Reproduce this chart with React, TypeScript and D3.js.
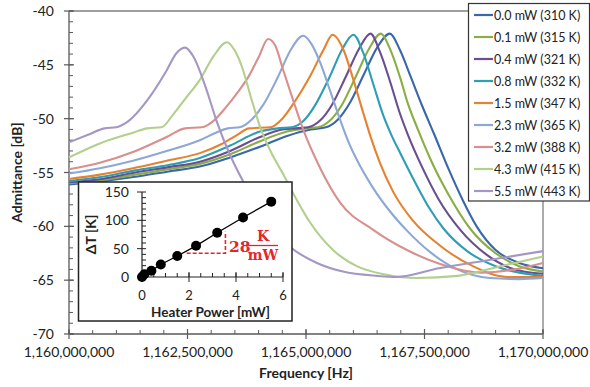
import React from 'react'
import * as d3 from 'd3'

const width = 590
const height = 387

// legend / series
const seriesLabels = [
  '0.0 mW (310 K)', '0.1 mW (315 K)', '0.4 mW (321 K)', '0.8 mW (332 K)', '1.5 mW (347 K)',
  '2.3 mW (365 K)', '3.2 mW (388 K)', '4.3 mW (415 K)', '5.5 mW (443 K)',
]
const seriesColors = [
  '#3a67ab', '#8aae45', '#6a4e91', '#2f9db5', '#e6822f',
  '#8da8d5', '#d98f8c', '#b3cf8c', '#a497c5',
]

// admittance traces: [frequency MHz, admittance dB]
const trace00 = [
  [1160, -56.1], [1160.7, -55.8], [1161.4, -55.4], [1162.1, -54.9], [1162.76, -54.45], [1163.4, -53.6],
  [1164.03, -52.6], [1164.6, -51.6], [1165.1, -51.0], [1165.42, -50.8], [1165.67, -50.1], [1165.93, -48.5],
  [1166.22, -45.9], [1166.5, -43.4], [1166.77, -42.1], [1166.98, -43.6], [1167.2, -46.0], [1167.45, -48.8],
  [1167.7, -51.4], [1168.0, -54.6], [1168.3, -57.5], [1168.6, -60.0], [1169.0, -62.2], [1169.5, -63.4], [1170, -63.9],
]
const trace01 = [
  [1160, -56.0], [1160.7, -55.7], [1161.4, -55.2], [1162.1, -54.7], [1162.76, -54.2], [1163.4, -53.3],
  [1164.03, -52.1], [1164.6, -51.2], [1165.0, -50.9], [1165.25, -50.8], [1165.5, -50.2], [1165.76, -48.7],
  [1166.05, -46.1], [1166.33, -43.5], [1166.58, -42.1], [1166.77, -43.5], [1166.98, -46.1], [1167.15, -48.6],
  [1167.36, -51.0], [1167.65, -54.0], [1168.0, -57.0], [1168.46, -60.2], [1169.0, -62.5], [1169.5, -63.7], [1170, -64.2],
]
const trace04 = [
  [1160, -55.9], [1160.7, -55.6], [1161.4, -55.0], [1162.1, -54.5], [1162.76, -54.0], [1163.4, -53.0],
  [1164.03, -51.7], [1164.5, -51.0], [1165.04, -50.8], [1165.29, -50.2], [1165.55, -48.7], [1165.84, -46.1],
  [1166.12, -43.5], [1166.36, -42.1], [1166.56, -43.8], [1166.77, -46.5], [1166.98, -49.5], [1167.15, -51.5],
  [1167.45, -54.5], [1167.8, -57.5], [1168.25, -60.3], [1168.8, -62.6], [1169.4, -64.0], [1170, -64.4],
]
const trace08 = [
  [1160, -55.8], [1160.7, -55.4], [1161.4, -54.8], [1162.1, -54.3], [1162.76, -53.65], [1163.4, -52.5],
  [1164.03, -51.2], [1164.4, -50.9], [1164.7, -50.8], [1164.95, -50.2], [1165.2, -48.7], [1165.5, -46.1],
  [1165.77, -43.5], [1166.0, -42.2], [1166.2, -43.8], [1166.42, -46.8], [1166.63, -49.7], [1166.8, -51.5],
  [1167.0, -53.3], [1167.3, -55.9], [1167.6, -58.3], [1167.9, -60.2], [1168.4, -62.3], [1169.0, -63.7],
  [1169.5, -64.3], [1170, -64.6],
]
const trace15 = [
  [1160, -55.6], [1160.65, -55.2], [1161.35, -54.6], [1162.06, -53.9], [1162.76, -53.2], [1163.2, -52.4],
  [1163.55, -51.5], [1163.8, -50.9], [1164.25, -50.8], [1164.5, -50.0], [1164.75, -48.5], [1165.08, -46.1],
  [1165.37, -43.6], [1165.56, -42.2], [1165.79, -43.6], [1166.0, -46.4], [1166.21, -49.5], [1166.35, -51.5],
  [1166.56, -54.1], [1166.84, -56.8], [1167.26, -59.5], [1167.83, -61.8], [1168.52, -63.7], [1169.24, -64.7], [1170, -64.7],
]
const trace23 = [
  [1160, -55.1], [1160.65, -54.6], [1161.35, -53.9], [1162.06, -53.0], [1162.76, -52.0], [1163.1, -51.3],
  [1163.35, -50.9], [1163.6, -50.8], [1163.85, -50.1], [1164.1, -48.7], [1164.4, -46.2], [1164.68, -43.6],
  [1164.94, -42.3], [1165.12, -43.1], [1165.3, -44.8], [1165.5, -47.3], [1165.72, -50.1], [1165.9, -52.2],
  [1166.07, -53.8], [1166.41, -56.4], [1166.77, -58.6], [1167.13, -60.4], [1167.62, -62.4], [1168.19, -64.0],
  [1168.88, -64.8], [1169.5, -64.9], [1170, -64.8],
]
const trace32 = [
  [1160, -54.7], [1160.65, -54.1], [1161.35, -53.1], [1162.06, -51.7], [1162.45, -50.9], [1162.8, -50.8],
  [1163.05, -50.2], [1163.3, -49.0], [1163.55, -47.6], [1163.8, -46.0], [1164.0, -44.3], [1164.2, -42.6],
  [1164.35, -43.2], [1164.52, -45.5], [1164.73, -48.3], [1164.94, -51.0], [1165.3, -54.6], [1165.72, -57.8],
  [1166.41, -60.3], [1167.13, -62.2], [1167.83, -63.5], [1168.7, -64.3], [1169.4, -64.0], [1170, -63.4],
]
const trace43 = [
  [1160, -53.6], [1160.65, -52.3], [1161.35, -51.3], [1161.65, -50.9], [1161.95, -50.8], [1162.2, -49.6],
  [1162.48, -48.0], [1162.76, -46.4], [1163.05, -44.2], [1163.33, -42.9], [1163.5, -43.7], [1163.65, -45.2],
  [1163.85, -48.2], [1164.05, -51.0], [1164.25, -53.0], [1164.5, -55.0], [1164.8, -57.5], [1165.08, -59.6],
  [1165.57, -62.2], [1166.07, -63.7], [1166.7, -64.5], [1167.34, -64.8], [1168.2, -64.6], [1169.1, -63.7], [1170, -62.8],
]
const trace55 = [
  [1160, -52.2], [1160.4, -51.5], [1160.75, -50.9], [1161.0, -50.8], [1161.2, -50.4], [1161.7, -48.0],
  [1162.05, -45.6], [1162.27, -43.9], [1162.45, -43.4], [1162.62, -44.2], [1162.9, -47.3], [1163.12, -50.3],
  [1163.4, -53.4], [1163.67, -55.8], [1164.18, -59.6], [1164.66, -61.9], [1165.23, -63.4], [1165.78, -64.2],
  [1166.5, -64.6], [1166.9, -64.7], [1167.8, -63.9], [1168.9, -63.1], [1170, -62.3],
]
const traces = [trace00, trace01, trace04, trace08, trace15, trace23, trace32, trace43, trace55]

const freqTicks = [1160, 1162.5, 1165, 1167.5, 1170]
const dbTicks = [-70, -65, -60, -55, -50, -45, -40]

// inset: temperature rise vs heater power
const heaterPower = [0, 0.1, 0.4, 0.8, 1.5, 2.3, 3.2, 4.3, 5.5]
const deltaT = [0, 5, 11, 22, 37, 55, 78, 105, 133]
const powerTicks = [0, 2, 4, 6]
const deltaTicks = [0, 50, 100, 150]
const slopePower = [1.9, 3.55]
const slopeDelta = [42, 80]

const font = 'Lato, "Open Sans", sans-serif'

export default function App() {
  const x = d3.scaleLinear().domain([1160, 1170]).range([69, 543])
  const y = d3.scaleLinear().domain([-70, -40]).range([334, 11])
  const line = d3.line<number[]>().x(d => x(d[0])).y(d => y(d[1])).curve(d3.curveMonotoneX)
  const fmt = (v: number) => d3.format(',')(Math.round(v * 1e6))

  const ix = d3.scaleLinear().domain([0, 6]).range([142, 283])
  const iy = d3.scaleLinear().domain([0, 150]).range([277, 192])
  const pts = heaterPower.map((p, i) => [p, deltaT[i]])
  const fitLine = d3.line<number[]>().x(d => ix(d[0])).y(d => iy(d[1]))

  const axisCol = '#595959'
  const x0 = x.range()[0], x1 = x.range()[1], y0 = y.range()[0], y1 = y.range()[1]

  return (
    <svg width={width} height={height} style={{ position: 'absolute', left: 0, top: 0 }} fontFamily={font}>
      <rect width={width} height={height} fill="#fff" />
      {/* plot frame */}
      <line x1={x0} x2={x1} y1={y1} y2={y1} stroke="#7f7f7f" strokeWidth={1.3} />
      <line x1={x1} x2={x1} y1={y1} y2={y0} stroke="#7f7f7f" strokeWidth={1.3} />

      {/* y axis */}
      <line x1={x0} x2={x0} y1={y1} y2={y0} stroke={axisCol} strokeWidth={1.3} />
      {d3.range(-70, -39.5, 1).map(v => (
        <line key={'ym' + v} x1={x0} x2={x0 + 4} y1={y(v)} y2={y(v)} stroke={axisCol} />
      ))}
      {dbTicks.map(v => (
        <g key={'y' + v}>
          <line x1={x0 - 5} x2={x0 + 5} y1={y(v)} y2={y(v)} stroke={axisCol} strokeWidth={1.2} />
          <text x={x0 - 15} y={y(v) + 5} textAnchor="end" fontSize={14} fill="#222">{v}</text>
        </g>
      ))}
      <text transform={`translate(22,${(y0 + y1) / 2}) rotate(-90)`} textAnchor="middle" fontSize={14} fontWeight="bold" fill="#222">Admittance [dB]</text>

      {/* x axis */}
      <line x1={x0} x2={x1} y1={y0} y2={y0} stroke={axisCol} strokeWidth={1.3} />
      {d3.range(1160, 1170.01, 0.5).map(v => (
        <line key={'xm' + v} x1={x(v)} x2={x(v)} y1={y0} y2={y0 - 4} stroke={axisCol} />
      ))}
      {freqTicks.map(v => (
        <g key={'x' + v}>
          <line x1={x(v)} x2={x(v)} y1={y0 - 5} y2={y0 + 5} stroke={axisCol} strokeWidth={1.2} />
          <text x={x(v)} y={y0 + 23} textAnchor="middle" fontSize={14} fill="#222">{fmt(v)}</text>
        </g>
      ))}
      <text x={(x0 + x1) / 2} y={378} textAnchor="middle" fontSize={14} fontWeight="bold" fill="#222">Frequency [Hz]</text>

      {/* traces */}
      {traces.map((t, i) => (
        <path key={'t' + i} d={line(t) || ''} fill="none" stroke={seriesColors[i]} strokeWidth={2.1} />
      ))}

      {/* inset */}
      <rect x={78.5} y={182} width={213.5} height={139} fill="#fff" stroke="#222" strokeWidth={1.5} />
      <line x1={ix(0)} x2={ix(0)} y1={iy(150)} y2={iy(0)} stroke="#222" strokeWidth={1.2} />
      <line x1={ix(0)} x2={ix(6)} y1={iy(0)} y2={iy(0)} stroke="#222" strokeWidth={1.2} />
      {d3.range(0, 150.1, 10).map(v => (
        <line key={'iym' + v} x1={ix(0)} x2={ix(0) + 4} y1={iy(v)} y2={iy(v)} stroke="#222" />
      ))}
      {deltaTicks.map(v => (
        <g key={'iy' + v}>
          <line x1={ix(0) - 5} x2={ix(0)} y1={iy(v)} y2={iy(v)} stroke="#222" />
          <text x={ix(0) - 13} y={iy(v) + 5} textAnchor="end" fontSize={14} fill="#222">{v}</text>
        </g>
      ))}
      {d3.range(0, 6.01, 0.5).map(v => (
        <line key={'ixm' + v} x1={ix(v)} x2={ix(v)} y1={iy(0)} y2={iy(0) - 4} stroke="#222" />
      ))}
      {powerTicks.map(v => (
        <g key={'ix' + v}>
          <line x1={ix(v)} x2={ix(v)} y1={iy(0) - 5} y2={iy(0) + 5} stroke="#222" />
          <text x={ix(v)} y={iy(0) + 23} textAnchor="middle" fontSize={13} fill="#222">{v}</text>
        </g>
      ))}
      <text transform={`translate(96,${(iy(0) + iy(150)) / 2}) rotate(-90)`} textAnchor="middle" fontSize={14} fontWeight="bold" fill="#222">ΔT [K]</text>
      <text x={(ix(0) + ix(6)) / 2 - 2} y={317} textAnchor="middle" fontSize={13.5} fontWeight="bold" fill="#222">Heater Power [mW]</text>

      <path d={fitLine(pts) || ''} fill="none" stroke="#000" strokeWidth={1.3} />
      {pts.map((p, i) => (
        <circle key={'p' + i} cx={ix(p[0])} cy={iy(p[1])} r={5} fill="#000" />
      ))}
      <path
        d={`M${ix(slopePower[0])},${iy(slopeDelta[0])}H${ix(slopePower[1])}V${iy(slopeDelta[1])}`}
        fill="none" stroke="#e3262a" strokeWidth={1.6} strokeDasharray="4,2"
      />
      <g fill="#e3262a" fontFamily='"DejaVu Serif", serif' fontWeight="bold">
        <text x={229} y={251.5} fontSize={15.5}>28</text>
        <text x={263} y={240.5} fontSize={14} textAnchor="middle">K</text>
        <line x1={248} x2={278} y1={245.5} y2={245.5} stroke="#e3262a" strokeWidth={1.3} />
        <text x={263} y={259.5} fontSize={14} textAnchor="middle">mW</text>
      </g>

      {/* legend */}
      <rect x={468.5} y={3.5} width={121} height={197.5} fill="#fff" stroke="#333" strokeWidth={1.2} />
      {seriesLabels.map((s, i) => (
        <g key={'l' + i} transform={`translate(474,${15 + i * 22})`}>
          <line x1={0} x2={19} y1={0} y2={0} stroke={seriesColors[i]} strokeWidth={2.2} />
          <text x={20} y={4.5} fontSize={12.5} fill="#222">{s}</text>
        </g>
      ))}
    </svg>
  )
}
